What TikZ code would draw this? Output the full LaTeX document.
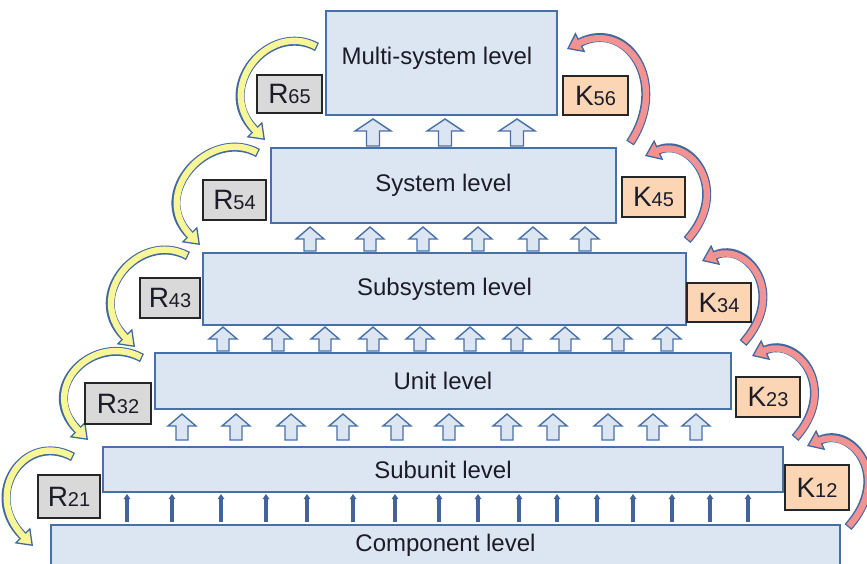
\documentclass[tikz,border=0pt]{standalone}
\usepackage{fontspec}
\setmainfont{Liberation Sans}
\usetikzlibrary{arrows.meta}

\definecolor{boxfill}{RGB}{220,230,242}
\definecolor{boxline}{RGB}{72,112,168}
\definecolor{rfill}{RGB}{217,217,217}
\definecolor{kfill}{RGB}{252,213,181}
\definecolor{tagline}{RGB}{38,38,38}
\definecolor{yellowc}{RGB}{248,246,150}
\definecolor{pinkc}{RGB}{242,146,146}
\definecolor{bandline}{RGB}{66,104,160}
\definecolor{thinc}{RGB}{66,100,155}
\definecolor{txt}{RGB}{28,28,40}

\tikzset{
  level/.style={draw=boxline, line width=1.6pt, fill=boxfill, inner sep=0pt,
    font=\fontsize{24}{28}\selectfont, text=txt},
  lvltext/.style={inner sep=0pt, font=\fontsize{24}{28}\selectfont, text=txt},
  tag/.style={draw=tagline, line width=1.8pt, inner sep=0pt,
    minimum width=64pt, minimum height=40pt,
    font=\fontsize{28}{30}\selectfont, text=txt},
  rtag/.style={tag, fill=rfill},
  ktag/.style={tag, fill=kfill},
  hollowarrow/.style={draw=boxline, line width=1.4pt, fill=boxfill, line join=miter},
  thinarrow/.style={draw=thinc, line width=3.4pt,
    -{Triangle[length=5pt,width=6.5pt]}},
  bandout/.style={draw=bandline, line width=9pt,
    -{Triangle[length=15pt,width=22pt,line width'=1.3pt,fill=#1]}},
  bandin/.style={draw=#1, line width=6.4pt, shorten >=12pt, shorten <=1.3pt},
  pics/blockup/.style args={#1/#2/#3}{code={
    \draw[hollowarrow] ({-#3/2},0) -- ({-#3/2},{-(#1-12)}) -- ({-#2/2},{-(#1-12)})
      -- (0,{-#1}) -- ({#2/2},{-(#1-12)}) -- ({#3/2},{-(#1-12)}) -- ({#3/2},0) -- cycle;
  }},
}

% curved feedback arrows: yellow runs down the left side, pink runs up the right side
\newcommand\downbend[2]{%
  \draw[bandout=yellowc] (#1) .. controls +(-48,-26) and +(-52,-52) .. (#2);
  \draw[bandin=yellowc]  (#1) .. controls +(-48,-26) and +(-52,-52) .. (#2);}
\newcommand\upbend[4]{%
  \draw[bandout=pinkc] (#1) .. controls +(#3) and +(#4) .. (#2);
  \draw[bandin=pinkc]  (#1) .. controls +(#3) and +(#4) .. (#2);}
\newcommand\sub[1]{{\fontsize{20}{20}\selectfont #1}}

\begin{document}
\begin{tikzpicture}[x=1pt, y=-1pt]
\useasboundingbox (0,0) rectangle (867,563);
\clip (0,0) rectangle (867,563);

% end points of the curved arrows
\coordinate (t65) at (317,47);  \coordinate (h65) at (265,140);
\coordinate (t54) at (258,153); \coordinate (h54) at (200,245);
\coordinate (t43) at (188,256); \coordinate (h43) at (135,347);
\coordinate (t32) at (142,358); \coordinate (h32) at (88,440);
\coordinate (t21) at (73,457);  \coordinate (h21) at (33,546);

\coordinate (t56) at (630,143); \coordinate (h56) at (567,49);
\coordinate (t45) at (687,240); \coordinate (h45) at (645,156);
\coordinate (t34) at (743,343); \coordinate (h34) at (702,261);
\coordinate (t23) at (795,438); \coordinate (h23) at (752,356);
\coordinate (t12) at (848,527); \coordinate (h12) at (807,446);

\downbend{t65}{h65}
\downbend{t54}{h54}
\downbend{t43}{h43}
\downbend{t32}{h32}
\downbend{t21}{h21}

\upbend{t56}{h56}{40,-60}{60,-30}
\upbend{t45}{h45}{45,-50}{45,-20}
\upbend{t34}{h34}{45,-50}{45,-20}
\upbend{t23}{h23}{45,-50}{45,-20}
\upbend{t12}{h12}{45,-50}{45,-20}

% level boxes
\node[level, minimum width=231pt, minimum height=104pt] (multi) at (441.5,63) {};
\node[lvltext] (multitxt) at (437,58) {Multi-system level};
\node[level, minimum width=345pt, minimum height=75pt] (system) at (443.5,185.5) {System level};
\node[level, minimum width=483pt, minimum height=72pt] (subsystem) at (444.5,289) {Subsystem level};
\node[level, minimum width=576pt, minimum height=56pt] (unit) at (443,381) {Unit level};
\node[level, minimum width=680pt, minimum height=45pt] (subunit) at (443,469.5) {Subunit level};
\node[level, minimum width=789pt, minimum height=40pt] (component) at (445.5,545) {Component level};

% upward flow between levels
\foreach \x in {373,445,517}
  \pic at (\x,146) {blockup=27/36/13};
\foreach \x in {310,370,423,478,533,585}
  \pic at (\x,251) {blockup=24/28/12};
\foreach \x in {223,278,325,373,420,470,517,565,618,667}
  \pic at (\x,351) {blockup=24/28/12};
\foreach \x in {182,236,291,343,397,449,507,553,608,653,696}
  \pic at (\x,440) {blockup=26/28/12};
\foreach \x in {127,172,221,266,307,353,395,439,478,519,557,597,633,672,710,748}
  \draw[thinarrow] (\x,522) -- (\x,494);

% relation tags
\node[rtag, minimum width=65pt, minimum height=38pt] (r65) at (289.5,94) {R\sub{65}};
\node[ktag, minimum width=65pt, minimum height=39pt] (k56) at (595.5,95.5) {K\sub{56}};
\node[rtag, minimum width=63pt] (r54) at (234.5,200) {R\sub{54}};
\node[ktag, minimum width=63pt] (k45) at (653.5,197) {K\sub{45}};
\node[rtag, minimum width=60pt] (r43) at (170,298) {R\sub{43}};
\node[ktag, minimum width=64pt, minimum height=39pt] (k34) at (719,302.5) {K\sub{34}};
\node[rtag, minimum width=66pt, minimum height=41pt] (r32) at (118,403.5) {R\sub{32}};
\node[ktag, minimum width=64pt] (k23) at (768,397) {K\sub{23}};
\node[rtag, minimum width=62pt, minimum height=43pt] (r21) at (69,496.5) {R\sub{21}};
\node[ktag, minimum width=64pt, minimum height=45pt] (k12) at (817,487.5) {K\sub{12}};
\end{tikzpicture}
\end{document}
